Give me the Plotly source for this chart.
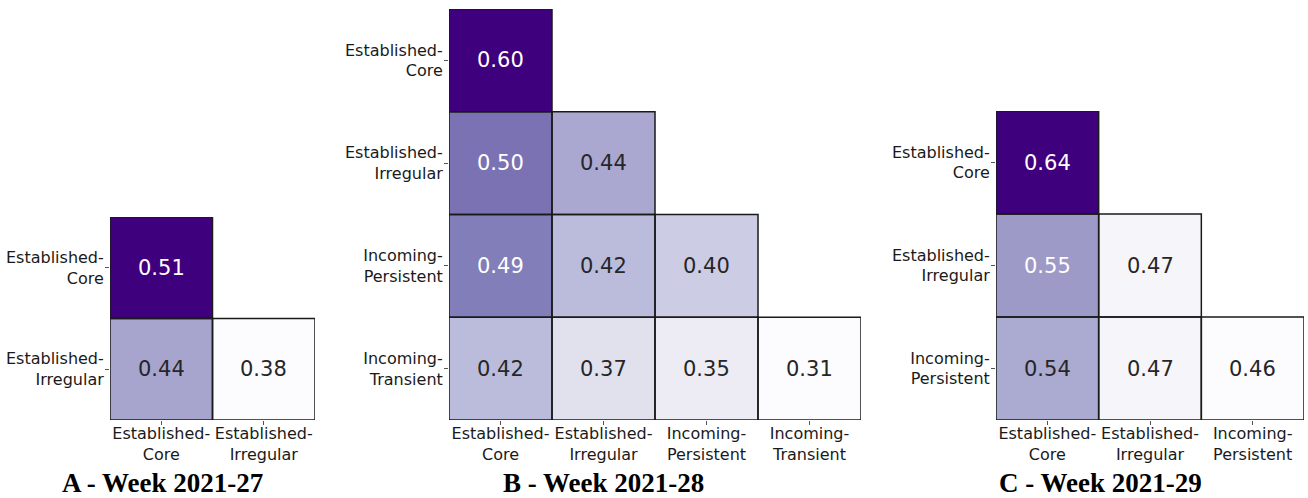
import plotly.graph_objects as go

# Lower-triangular similarity matrices for three consecutive weeks
groups_a = ["Established-Core", "Established-Irregular"]
values_a = [
    [0.51, None],
    [0.44, 0.38],
]

groups_b = ["Established-Core", "Established-Irregular",
            "Incoming-Persistent", "Incoming-Transient"]
values_b = [
    [0.60, None, None, None],
    [0.50, 0.44, None, None],
    [0.49, 0.42, 0.40, None],
    [0.42, 0.37, 0.35, 0.31],
]

groups_c = ["Established-Core", "Established-Irregular", "Incoming-Persistent"]
values_c = [
    [0.64, None, None],
    [0.55, 0.47, None],
    [0.54, 0.47, 0.46],
]

titles = ["A - Week 2021-27", "B - Week 2021-28", "C - Week 2021-29"]

W, H = 1308, 498
PURPLES = [
    [0.000, "rgb(252,251,253)"], [0.125, "rgb(239,237,245)"],
    [0.250, "rgb(218,218,235)"], [0.375, "rgb(188,189,220)"],
    [0.500, "rgb(158,154,200)"], [0.625, "rgb(128,125,186)"],
    [0.750, "rgb(106,81,163)"], [0.875, "rgb(84,39,143)"],
    [1.000, "rgb(63,0,125)"],
]

# pixel placement of each panel's heatmap (left, right, top, bottom)
panels = [
    (groups_a, values_a, (110, 315, 217, 420), 162),
    (groups_b, values_b, (449, 861, 9, 420), 603),
    (groups_c, values_c, (996, 1304, 111, 420), 1100),
]

fig = go.Figure()
annotations = []
shapes = []

for k, (groups, vals, (px0, px1, py0, py1), title_x) in enumerate(panels):
    idx = "" if k == 0 else str(k + 1)
    xa, ya = "x" + idx, "y" + idx
    n = len(groups)
    flat = [v for row in vals for v in row if v is not None]
    vmin, vmax = min(flat), max(flat)

    fig.add_trace(go.Heatmap(
        z=vals, x=list(range(n)), y=list(range(n)),
        colorscale=PURPLES, zmin=vmin, zmax=vmax,
        showscale=False, hoverongaps=False,
        xaxis=xa, yaxis=ya,
    ))

    ticktext = [g.replace("-", "-<br>") for g in groups]
    axis_common = dict(
        tickmode="array", tickvals=list(range(n)), ticktext=ticktext,
        ticks="outside", ticklen=4, tickwidth=1, tickcolor="#555555",
        showgrid=False, zeroline=False, showline=False,
        tickfont=dict(family="DejaVu Sans", size=16, color="#1a1a1a"),
        fixedrange=True,
    )
    fig.update_layout(**{
        ("xaxis" + idx): dict(
            axis_common, domain=[px0 / W, px1 / W],
            range=[-0.5, n - 0.5], anchor=ya, ticklabelstandoff=-5,
        ),
        ("yaxis" + idx): dict(
            axis_common, domain=[1 - py1 / H, 1 - py0 / H],
            range=[n - 0.5, -0.5], anchor=xa, ticklabelstandoff=-2,
        ),
    })

    for i, row in enumerate(vals):
        for j, v in enumerate(row):
            if v is None:
                continue
            frac = (v - vmin) / (vmax - vmin)
            annotations.append(dict(
                x=j, y=i, xref=xa, yref=ya, text=f"{v:.2f}", showarrow=False,
                font=dict(family="DejaVu Sans", size=21,
                          color="#ffffff" if frac > 0.48 else "#262626"),
            ))
            shapes.append(dict(
                type="rect", xref=xa, yref=ya,
                x0=j - 0.5, x1=j + 0.5, y0=i - 0.5, y1=i + 0.5,
                line=dict(color="#1a1a1a", width=1.5),
            ))

    annotations.append(dict(
        x=title_x / W, y=1 - 483 / H, xref="paper", yref="paper",
        text=f"<b>{titles[k]}</b>", showarrow=False,
        xanchor="center", yanchor="middle",
        font=dict(family="Liberation Serif", size=27, color="#000000"),
    ))

fig.update_layout(
    width=W, height=H,
    margin=dict(l=0, r=0, t=0, b=0),
    paper_bgcolor="white", plot_bgcolor="rgba(0,0,0,0)",
    annotations=annotations, shapes=shapes,
)

fig.write_html("out.html")
